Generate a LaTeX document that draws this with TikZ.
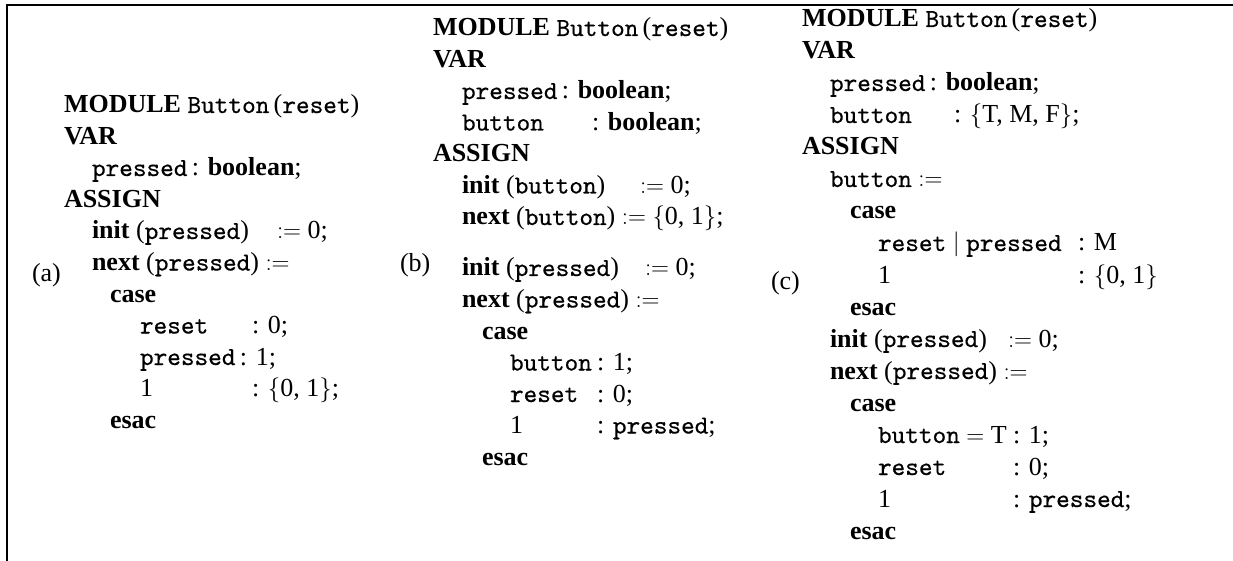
\documentclass[tikz,border=0pt]{standalone}
\usepackage{fontspec}
\setmainfont{Liberation Serif}
\setmonofont{lmmono10-regular.otf}[FakeBold=0.5]
\newcommand{\kw}[1]{\textbf{#1}}
\newcommand{\id}[1]{\texttt{#1}}
\newcommand{\asg}{$:=$}
\newcommand{\pre}[2]{\makebox[#1pt][l]{#2}}
\tikzset{
  ln/.style={anchor=base west, inner sep=0pt, outer sep=0pt,
             font=\fontsize{26}{31.5}\selectfont},
  tag/.style={ln},
  frame/.style={line width=2.2pt, line cap=rect, line join=miter}
}
\begin{document}
\begin{tikzpicture}[x=1pt, y=-1pt]
\useasboundingbox (0,0) rectangle (1233,561);
% open frame: top rule and left rule
\draw[frame] (7,561) -- (7,5) -- (1233,5);

% ---------- (a) ----------
\node[tag] (la) at (32,281) {(a)};
\node[ln] (a1)  at (64,113)   {\kw{MODULE} \id{Button}\,(\id{reset})};
\node[ln] (a2)  at (64,144.5) {\kw{VAR}};
\node[ln] (a3)  at (92,176)   {\id{pressed}\,: \kw{boolean};};
\node[ln] (a4)  at (64,207.5) {\kw{ASSIGN}};
\node[ln] (a5)  at (92,239)   {\pre{185}{\kw{init} (\id{pressed})}\asg\ 0;};
\node[ln] (a6)  at (92,270.5) {\kw{next} (\id{pressed}) \asg};
\node[ln] (a7)  at (110,302)  {\kw{case}};
\node[ln] (a8)  at (140,333.5){\pre{112}{\id{reset}}: 0;};
\node[ln] (a9)  at (140,365)  {\id{pressed}\,: 1;};
\node[ln] (a10) at (140,396.5){\pre{112}{1}: $\{$0, 1$\}$;};
\node[ln] (a11) at (110,428)  {\kw{esac}};

% ---------- (b) ----------
\node[tag] (lb) at (400,271) {(b)};
\node[ln] (b1)  at (433,36)   {\kw{MODULE} \id{Button}\,(\id{reset})};
\node[ln] (b2)  at (433,67.5) {\kw{VAR}};
\node[ln] (b3)  at (462,99)   {\id{pressed}\,: \kw{boolean};};
\node[ln] (b4)  at (462,130.5){\pre{130}{\id{button}}: \kw{boolean};};
\node[ln] (b5)  at (433,162)  {\kw{ASSIGN}};
\node[ln] (b6)  at (462,193.5){\pre{178}{\kw{init} (\id{button})}\asg\ 0;};
\node[ln] (b7)  at (462,225)  {\kw{next} (\id{button}) \asg\ $\{$0, 1$\}$;};
\node[ln] (b8)  at (462,276)  {\pre{183}{\kw{init} (\id{pressed})}\asg\ 0;};
\node[ln] (b9)  at (462,307.5){\kw{next} (\id{pressed}) \asg};
\node[ln] (b10) at (482,339)  {\kw{case}};
\node[ln] (b11) at (510,370.5){\pre{87}{\id{button}}: 1;};
\node[ln] (b12) at (510,402)  {\pre{87}{\id{reset}}: 0;};
\node[ln] (b13) at (510,433.5){\pre{87}{1}: \id{pressed};};
\node[ln] (b14) at (482,465)  {\kw{esac}};

% ---------- (c) ----------
\node[tag] (lc) at (771,289) {(c)};
\node[ln] (c1)  at (802,27)  {\kw{MODULE} \id{Button}\,(\id{reset})};
\node[ln] (c2)  at (802,59)  {\kw{VAR}};
\node[ln] (c3)  at (830,91)  {\id{pressed}\,: \kw{boolean};};
\node[ln] (c4)  at (830,123) {\pre{124}{\id{button}}: $\{$T, M, F$\}$;};
\node[ln] (c5)  at (802,155) {\kw{ASSIGN}};
\node[ln] (c6)  at (830,187) {\id{button} \asg};
\node[ln] (c7)  at (850,219) {\kw{case}};
\node[ln] (c8)  at (878,251) {\pre{200}{\id{reset} $\mid$ \id{pressed}}: M};
\node[ln] (c9)  at (878,283) {\pre{200}{1}: $\{$0, 1$\}$};
\node[ln] (c10) at (850,315) {\kw{esac}};
\node[ln] (c11) at (830,347) {\pre{178}{\kw{init} (\id{pressed})}\asg\ 0;};
\node[ln] (c12) at (830,379) {\kw{next} (\id{pressed}) \asg};
\node[ln] (c13) at (850,411) {\kw{case}};
\node[ln] (c14) at (878,443) {\pre{135}{\id{button} $=$ T}: 1;};
\node[ln] (c15) at (878,475) {\pre{135}{\id{reset}}: 0;};
\node[ln] (c16) at (878,507) {\pre{135}{1}: \id{pressed};};
\node[ln] (c17) at (850,539) {\kw{esac}};
\end{tikzpicture}
\end{document}
